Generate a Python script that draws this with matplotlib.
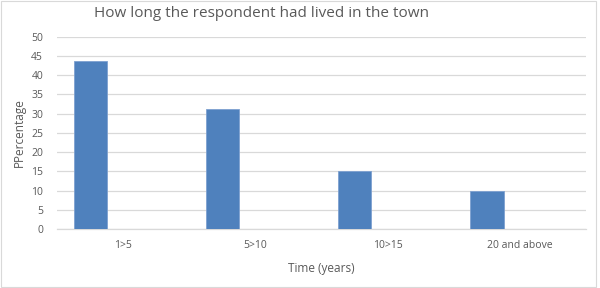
import numpy as np
import matplotlib
matplotlib.use('Agg')
import matplotlib.pyplot as plt
from matplotlib.patches import Rectangle

# data
categories = ['1>5', '5>10', '10>15', '20 and above']
percentages = [43.75, 31.25, 15.0, 10.0]
yticks = [0, 5, 10, 15, 20, 25, 30, 35, 40, 45, 50]

plt.rcParams['font.family'] = ['Open Sans', 'DejaVu Sans']
text_col = '#595959'

fig = plt.figure(figsize=(6.0, 2.88), dpi=100)
ax = fig.add_axes([0.095, 0.205, 0.882, 0.667])

x = np.arange(len(categories))
ax.bar(x - 0.25, percentages, width=0.25, color='#4f81bd',
       edgecolor='#7ea1d0', linewidth=0.6, zorder=3)

ax.set_xlim(-0.5, len(categories) - 0.5)
ax.set_ylim(0, 50)
ax.set_yticks(yticks)
ax.set_xticks(x)
ax.set_xticklabels(categories)
ax.grid(axis='y', color='#d9d9d9', linewidth=0.9, zorder=0)
for s in ['top', 'right', 'left']:
    ax.spines[s].set_visible(False)
ax.spines['bottom'].set_color('#d9d9d9')
ax.spines['bottom'].set_linewidth(0.9)
ax.tick_params(axis='both', length=0, labelsize=7.5, colors=text_col)
ax.tick_params(axis='x', pad=8)
ax.tick_params(axis='y', pad=10)

ax.set_ylabel('PPercentage', fontsize=8.5, color=text_col, labelpad=4)
ax.set_xlabel('Time (years)', fontsize=8.5, color=text_col, labelpad=8)
fig.suptitle('How long the respondent had lived in the town', fontsize=11,
             color=text_col, x=0.435, y=0.98)

# chart border
fig.patches.append(Rectangle((0.002, 0.003), 0.991, 0.994, transform=fig.transFigure,
                             fill=False, edgecolor='#d9d9d9', linewidth=0.8))

fig.savefig('out.png', dpi=100)
